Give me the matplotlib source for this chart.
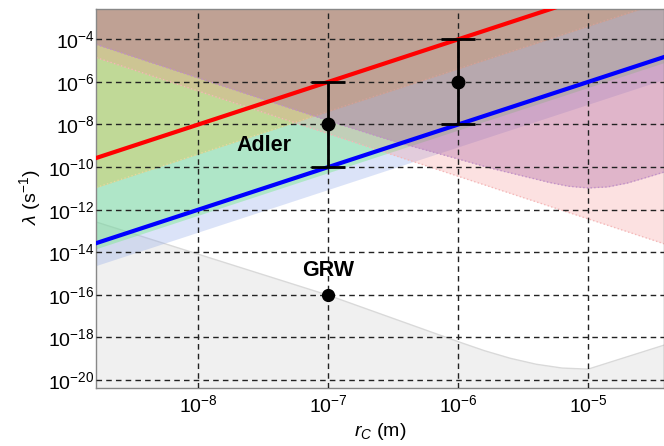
import numpy as np
import matplotlib.pyplot as plt
from matplotlib.ticker import FixedLocator, FixedFormatter

plt.rcParams['font.family'] = ['Liberation Sans', 'DejaVu Sans']
plt.rcParams['mathtext.fontset'] = 'custom'
plt.rcParams['mathtext.rm'] = 'Liberation Sans'
plt.rcParams['mathtext.it'] = 'Liberation Sans:italic'
plt.rcParams['mathtext.bf'] = 'Liberation Sans:bold'

# ends of the straight lines (rc in m), beyond the plot range
rc_ends = np.array([1e-9, 1e-4])
red_lam = np.array([1e-10, 1e0])
blue_lam = np.array([1e-14, 1e-4])

# lower edges of the excluded bands
lav_lower = np.array([8.9e-16, 8.9e-6])
green_lower = np.array([5.5e-15, 5.5e-5])
orange_lower = np.array([4.1e-12, 4.1e-2])
pink_lower = np.array([3.7e-5, 3.7e-15])

# purple bound (log10 values)
purple_log_rc = [-9.0, -7.0, -6.5, -6.0, -5.75, -5.5, -5.3, -5.15, -5.0, -4.85, -4.7, -4.55, -4.3]
purple_log_lam = [-3.81, -7.82, -8.78, -9.62, -10.05, -10.42, -10.72, -10.9, -10.98, -10.93, -10.75, -10.48, -10.02]

# theoretical lower bound (log10 values)
gray_log_rc = [-9.0, -7.0, -6.0, -5.8, -5.6, -5.4, -5.2, -5.0, -4.3]
gray_log_lam = [-12.17, -16.02, -18.2, -18.62, -18.98, -19.26, -19.44, -19.49, -18.14]

# Adler and GRW values
adler_rc = [1e-7, 1e-6]
adler_lam = [1e-8, 1e-6]
adler_lo = [1e-10, 1e-8]
adler_hi = [1e-6, 1e-4]
grw_rc = 1e-7
grw_lam = 1e-16

xticks = [1e-8, 1e-7, 1e-6, 1e-5]
xlabels = [r'$10^{-8}$', r'$10^{-7}$', r'$10^{-6}$', r'$10^{-5}$']
yticks = [10.0**k for k in range(-20, -3, 2)]
ylabels = [r'$10^{%d}$' % k for k in range(-20, -3, 2)]

fig = plt.figure(figsize=(6.64, 4.46), dpi=100)
ax = fig.add_axes([96/664, 1-388.3/446, (663.5-96)/664, (388.3-9.3)/446])
ax.set_xscale('log')
ax.set_yscale('log')

top = 1.0
p_rc = 10.0**np.array(purple_log_rc)
p_lam = 10.0**np.array(purple_log_lam)
g_rc = 10.0**np.array(gray_log_rc)
g_lam = 10.0**np.array(gray_log_lam)

def rgb(r, g, b):
    return (r/255, g/255, b/255)

ax.fill_between(g_rc, 1e-22, g_lam, color='#f0f0f0', lw=0, zorder=1)
ax.plot(g_rc, g_lam, color='#d9d9d9', lw=1, zorder=1.1)
ax.fill_between(rc_ends, lav_lower, top, color=rgb(138, 165, 232), alpha=0.3, lw=0, zorder=1.2)
ax.fill_between(rc_ends, green_lower, top, color=rgb(110, 236, 128), alpha=0.4, lw=0, zorder=1.3)
ax.fill_between(rc_ends, orange_lower, top, color=rgb(229, 190, 50), alpha=0.32, lw=0, zorder=1.4)
ax.plot(rc_ends, orange_lower, color='#e8d8a0', lw=1, ls=':', zorder=1.45)
ax.fill_between(rc_ends, pink_lower, top, color=rgb(247, 139, 139), alpha=0.25, lw=0, zorder=1.5)
ax.plot(rc_ends, pink_lower, color='#f4b8b8', lw=1, ls=':', zorder=1.55)
ax.fill_between(p_rc, p_lam, top, color=rgb(160, 80, 152), alpha=0.3, lw=0, zorder=1.6)
ax.plot(p_rc, p_lam, color='#c090c8', lw=1, ls=':', zorder=1.65)

ax.plot(rc_ends, red_lam, color='#ff0000', lw=3, zorder=3, solid_capstyle='butt')
ax.plot(rc_ends, blue_lam, color='#0000ff', lw=3, zorder=3, solid_capstyle='butt')

adler_lam = np.array(adler_lam)
yerr = [adler_lam - np.array(adler_lo), np.array(adler_hi) - adler_lam]
ax.errorbar(adler_rc, adler_lam, yerr=yerr, fmt='o', color='black', ms=9,
            elinewidth=2, capsize=12, capthick=2, zorder=4)
ax.plot(grw_rc, grw_lam, 'o', color='black', ms=8.5, zorder=4)

ax.text(10**-7.495, 10**-9.0, 'Adler', fontsize=15.5, fontweight='bold', ha='center', va='center', zorder=5)
ax.text(grw_rc, 10**-14.85, 'GRW', fontsize=15.5, fontweight='bold', ha='center', va='center', zorder=5)

ax.set_xlim(10**-8.788, 10**-4.42)
ax.set_ylim(10**-20.39, 10**-2.59)
ax.xaxis.set_major_locator(FixedLocator(xticks))
ax.xaxis.set_major_formatter(FixedFormatter(xlabels))
ax.yaxis.set_major_locator(FixedLocator(yticks))
ax.yaxis.set_major_formatter(FixedFormatter(ylabels))
ax.xaxis.set_minor_locator(FixedLocator([]))
ax.yaxis.set_minor_locator(FixedLocator([]))
ax.tick_params(length=0, labelsize=14, pad=4)
ax.tick_params(axis='y', pad=1)
ax.set_axisbelow(False)
ax.grid(True, which='major', color='#222222', lw=1, ls=(0, (4, 3)), zorder=2.5)
for s in ax.spines.values():
    s.set_color('#888888')
    s.set_linewidth(1)

ax.set_xlabel(r'$r_C$ (m)', fontsize=14)
ax.set_ylabel(r'$\lambda$ (s$^{-1}$)', fontsize=14)
ax.xaxis.set_label_coords((380-96)/(663.5-96), -(432-388.3)/(388.3-9.3), transform=ax.transAxes)
ax.yaxis.set_label_coords(-(96-30)/(663.5-96), (388.3-197)/(388.3-9.3), transform=ax.transAxes)
ax.xaxis.label.set_va('center')
ax.yaxis.label.set_va('center')

fig.savefig('out.png', dpi=100)
